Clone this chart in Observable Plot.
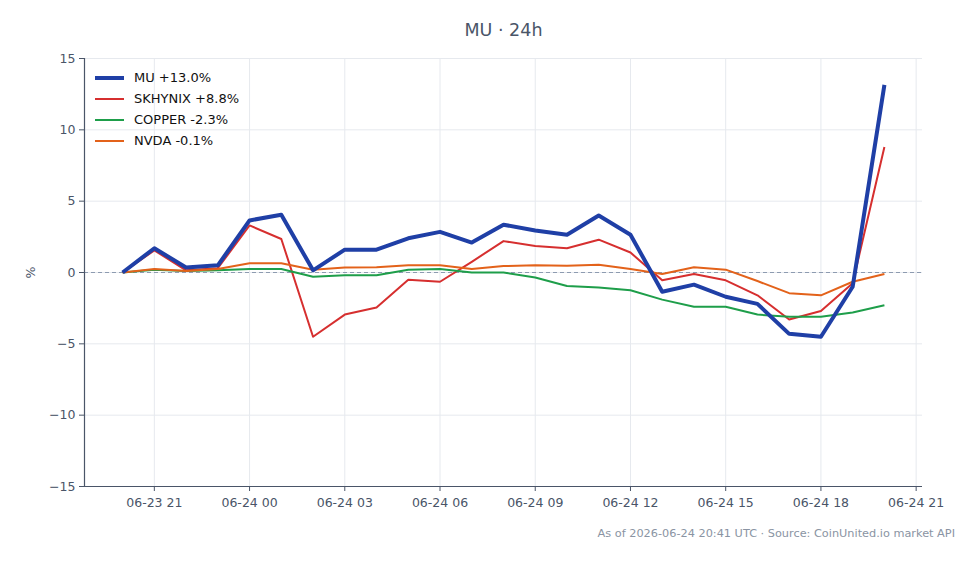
<!DOCTYPE html>
<html>
<head>
<meta charset="utf-8">
<script src="https://cdn.jsdelivr.net/npm/d3@7"></script>
<script src="https://cdn.jsdelivr.net/npm/@observablehq/plot@0.6"></script>
<style>
  html, body { margin: 0; padding: 0; background: #fff; }
  #wrap { position: relative; width: 979px; height: 564px; font-family: "DejaVu Sans", sans-serif; }
  #title { position: absolute; left: 0; width: 1007px; top: 20px; text-align: center; font-size: 17.5px; color: #4a5568; }
  #caption { position: absolute; right: 24px; top: 527px; font-size: 11.3px; color: #8a94a3; }
  #legend { position: absolute; left: 95px; top: 67px; font-size: 13px; color: #111; }
  .row { display: flex; align-items: center; height: 21px; }
  .sw { width: 29px; margin-right: 10px; border-radius: 0; }
  svg { position: absolute; left: 0; top: 0; }
</style>
</head>
<body>
<div id="wrap">
  <div id="chart"></div>
  <div id="title"></div>
  <div id="legend"></div>
  <div id="caption"></div>
</div>
<script>
const titleText = "MU · 24h";
const captionText = "As of 2026-06-24 20:41 UTC · Source: CoinUnited.io market API";
const times = [
  "2026-06-23T20:00Z","2026-06-23T21:00Z","2026-06-23T22:00Z","2026-06-23T23:00Z",
  "2026-06-24T00:00Z","2026-06-24T01:00Z","2026-06-24T02:00Z","2026-06-24T03:00Z",
  "2026-06-24T04:00Z","2026-06-24T05:00Z","2026-06-24T06:00Z","2026-06-24T07:00Z",
  "2026-06-24T08:00Z","2026-06-24T09:00Z","2026-06-24T10:00Z","2026-06-24T11:00Z",
  "2026-06-24T12:00Z","2026-06-24T13:00Z","2026-06-24T14:00Z","2026-06-24T15:00Z",
  "2026-06-24T16:00Z","2026-06-24T17:00Z","2026-06-24T18:00Z","2026-06-24T19:00Z",
  "2026-06-24T20:00Z"
];
const seriesNames = ["MU", "SKHYNIX", "COPPER", "NVDA"];
const legendLabels = ["MU +13.0%", "SKHYNIX +8.8%", "COPPER -2.3%", "NVDA -0.1%"];
const mu      = [0, 1.7, 0.35, 0.5, 3.65, 4.05, 0.15, 1.6, 1.6, 2.4, 2.85, 2.1, 3.35, 2.95, 2.65, 4.0, 2.65, -1.35, -0.85, -1.7, -2.2, -4.3, -4.5, -1.0, 13.15];
const skhynix = [0, 1.55, 0.15, 0.3, 3.3, 2.35, -4.5, -2.95, -2.45, -0.5, -0.65, 0.75, 2.2, 1.85, 1.7, 2.3, 1.4, -0.55, -0.1, -0.55, -1.6, -3.3, -2.7, -0.75, 8.8];
const copper  = [0, 0.2, 0.1, 0.15, 0.25, 0.25, -0.3, -0.2, -0.2, 0.2, 0.25, 0.0, 0.0, -0.35, -0.95, -1.05, -1.25, -1.9, -2.4, -2.4, -2.95, -3.1, -3.1, -2.8, -2.3];
const nvda    = [0, 0.25, 0.1, 0.25, 0.65, 0.65, 0.2, 0.35, 0.37, 0.5, 0.5, 0.25, 0.45, 0.5, 0.47, 0.55, 0.25, -0.1, 0.37, 0.2, -0.6, -1.45, -1.6, -0.65, -0.1];
const colors = ["#1f3fa6", "#d62f2f", "#1e9e4a", "#e3621a"];
const widths = [4, 2, 2, 2];
const yTicks = [-15, -10, -5, 0, 5, 10, 15];
const xDomain = ["2026-06-23T18:48Z", "2026-06-24T21:12Z"];

const values = [mu, skhynix, copper, nvda];
const rows = seriesNames.map((name, s) => times.map((t, i) => ({name, t: new Date(t), v: values[s][i]})));
const axisColor = "#4a5568";
const xd = xDomain.map(d => new Date(d));

const lineMarks = [1, 2, 3, 0].map(s =>
  Plot.line(rows[s], {x: "t", y: "v", stroke: colors[s], strokeWidth: widths[s], strokeLinejoin: "round", strokeLinecap: "butt"})
);

const chart = Plot.plot({
  width: 979, height: 564,
  marginTop: 58, marginBottom: 78, marginLeft: 84, marginRight: 57,
  style: {fontFamily: "DejaVu Sans, sans-serif", fontSize: "12.5px", color: axisColor, background: "transparent"},
  x: {type: "utc", domain: xd},
  y: {domain: [-15, 15]},
  marks: [
    Plot.gridY(yTicks, {stroke: "#e6e9ee", strokeOpacity: 1}),
    Plot.gridX({ticks: d3.utcHour.every(3), stroke: "#e6e9ee", strokeOpacity: 1}),
    Plot.ruleY([0], {stroke: "#8d9bb0", strokeWidth: 1, strokeDasharray: "4,3"}),
    ...lineMarks,
    Plot.ruleY([-15], {stroke: axisColor, strokeWidth: 1.2}),
    Plot.ruleX([xd[0]], {stroke: axisColor, strokeWidth: 1.2}),
    Plot.axisY(yTicks, {tickSize: 5, tickPadding: 4, stroke: axisColor, label: "%", labelAnchor: "center", labelArrow: "none", labelOffset: 58, fontSize: 12.5}),
    Plot.axisX({ticks: d3.utcHour.every(3), tickFormat: d3.utcFormat("%m-%d %H"), tickSize: 5, tickPadding: 7, stroke: axisColor, label: null})
  ]
});
document.getElementById("chart").appendChild(chart);
document.getElementById("title").textContent = titleText;
document.getElementById("caption").textContent = captionText;
const leg = document.getElementById("legend");
legendLabels.forEach((lab, s) => {
  const r = document.createElement("div");
  r.className = "row";
  const sw = document.createElement("div");
  sw.className = "sw";
  sw.style.height = widths[s] + "px";
  sw.style.background = colors[s];
  const tx = document.createElement("span");
  tx.textContent = lab;
  r.appendChild(sw); r.appendChild(tx);
  leg.appendChild(r);
});
</script>
</body>
</html>
